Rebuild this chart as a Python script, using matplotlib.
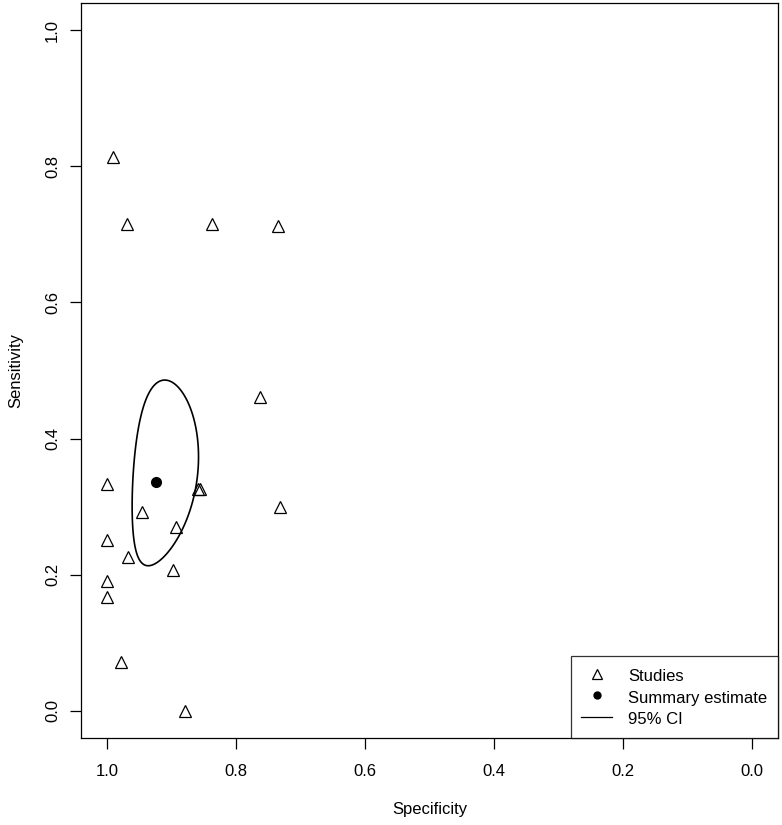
import numpy as np
import matplotlib
matplotlib.use('Agg')
import matplotlib.pyplot as plt
from matplotlib.lines import Line2D
from matplotlib.patches import Polygon

plt.rcParams['font.family'] = ['Liberation Sans', 'DejaVu Sans']

# study-level estimates
specificity = [0.991, 0.969, 0.837, 0.734, 0.762, 1.000, 0.858, 0.855, 0.946,
               0.893, 0.731, 1.000, 0.967, 0.897, 1.000, 1.000, 0.978, 0.879]
sensitivity = [0.813, 0.715, 0.715, 0.712, 0.461, 0.333, 0.326, 0.326, 0.292,
               0.270, 0.300, 0.251, 0.226, 0.207, 0.191, 0.167, 0.072, 0.000]

# summary estimate
summary_spec = 0.924
summary_sens = 0.336

# 95% confidence region, in logit space (half-widths and correlation)
ci_halfwidth_logit_fpr = 0.70
ci_halfwidth_logit_sens = 0.625
ci_rho = 0.26

ticks = [1.0, 0.8, 0.6, 0.4, 0.2, 0.0]


def logit(p):
    return np.log(p / (1 - p))


def expit(x):
    return 1 / (1 + np.exp(-x))


fig = plt.figure(figsize=(7.82, 8.25), dpi=100)
ax = fig.add_axes([81 / 782, 1 - 738 / 825, 697 / 782, 735 / 825])

ax.plot(specificity, sensitivity, linestyle='none', marker='^', markersize=9,
        markerfacecolor='none', markeredgecolor='black', markeredgewidth=0.9)

# confidence ellipse around the summary point
t = np.linspace(0, 2 * np.pi, 300, endpoint=False)
mx = logit(1 - summary_spec)
my = logit(summary_sens)
ex = mx + ci_halfwidth_logit_fpr * np.cos(t)
ey = my + ci_halfwidth_logit_sens * (ci_rho * np.cos(t) + np.sqrt(1 - ci_rho ** 2) * np.sin(t))
ax.add_patch(Polygon(np.column_stack([1 - expit(ex), expit(ey)]), closed=True,
                     fill=False, edgecolor='black', lw=1.2, joinstyle='round'))

ax.plot([summary_spec], [summary_sens], 'o', color='black', markersize=7)

ax.set_xlim(1.04, -0.04)
ax.set_ylim(-0.04, 1.04)
ax.set_xticks(ticks)
ax.set_xticklabels([f'{v:.1f}' for v in ticks])
ax.set_yticks(ticks)
ax.set_yticklabels([f'{v:.1f}' for v in ticks], rotation=90, va='center')
ax.tick_params(direction='out', length=8, width=0.9, labelsize=12)
ax.tick_params(axis='x', pad=10.5)
ax.tick_params(axis='y', pad=7)
for s in ax.spines.values():
    s.set_linewidth(0.9)

ax.set_xlabel('Specificity', fontsize=12, labelpad=17)
ax.set_ylabel('Sensitivity', fontsize=12, labelpad=16)

handles = [
    Line2D([], [], linestyle='none', marker='^', markersize=6.5,
           markerfacecolor='none', markeredgecolor='black', markeredgewidth=0.9),
    Line2D([], [], linestyle='none', marker='o', color='black', markersize=5),
    Line2D([], [], color='black', lw=0.9),
]
leg = ax.legend(handles, ['Studies', 'Summary estimate', '95% CI'],
                loc='lower right', borderaxespad=0, fancybox=False,
                edgecolor='black', fontsize=12, handlelength=1.85,
                handleheight=1.25, labelspacing=0.23, borderpad=0.65,
                handletextpad=0.95)
leg.get_frame().set_linewidth(0.9)

fig.savefig('out.png', dpi=100)
